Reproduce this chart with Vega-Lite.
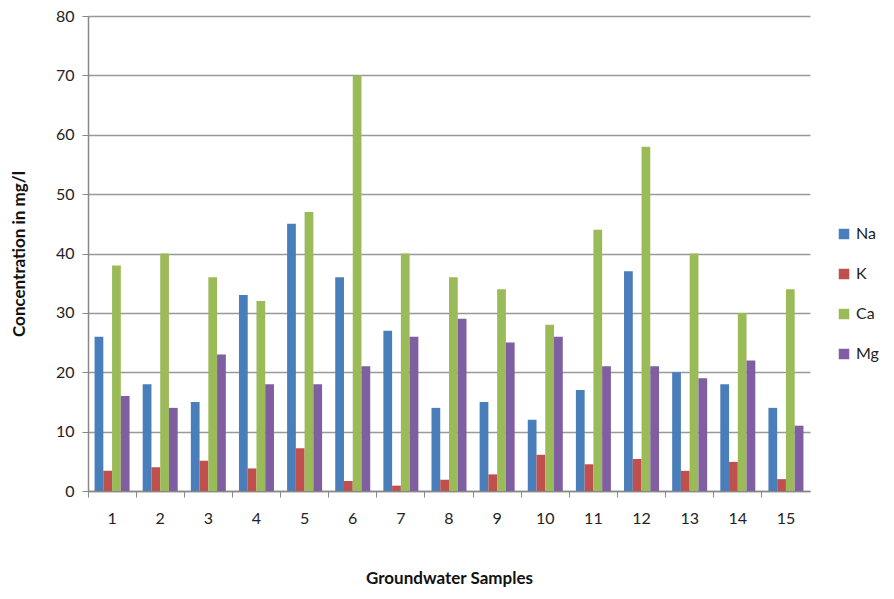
{
  "$schema": "https://vega.github.io/schema/vega-lite/v6.json",
  "width": 722,
  "height": 475,
  "autosize": {"type": "none"},
  "padding": {"left": 88, "top": 16, "right": 84, "bottom": 108},
  "background": "white",
  "config": {
    "font": "Lato",
    "view": {"stroke": null},
    "axis": {"labelFont": "Lato", "titleFont": "Lato", "labelColor": "#222", "titleColor": "#111"}
  },
  "data": {
    "values": [
      {"sample": "1", "ion": "Na", "value": 26}, {"sample": "1", "ion": "K", "value": 3.4}, {"sample": "1", "ion": "Ca", "value": 38}, {"sample": "1", "ion": "Mg", "value": 16},
      {"sample": "2", "ion": "Na", "value": 18}, {"sample": "2", "ion": "K", "value": 4.0}, {"sample": "2", "ion": "Ca", "value": 40}, {"sample": "2", "ion": "Mg", "value": 14},
      {"sample": "3", "ion": "Na", "value": 15}, {"sample": "3", "ion": "K", "value": 5.1}, {"sample": "3", "ion": "Ca", "value": 36}, {"sample": "3", "ion": "Mg", "value": 23},
      {"sample": "4", "ion": "Na", "value": 33}, {"sample": "4", "ion": "K", "value": 3.8}, {"sample": "4", "ion": "Ca", "value": 32}, {"sample": "4", "ion": "Mg", "value": 18},
      {"sample": "5", "ion": "Na", "value": 45}, {"sample": "5", "ion": "K", "value": 7.2}, {"sample": "5", "ion": "Ca", "value": 47}, {"sample": "5", "ion": "Mg", "value": 18},
      {"sample": "6", "ion": "Na", "value": 36}, {"sample": "6", "ion": "K", "value": 1.7}, {"sample": "6", "ion": "Ca", "value": 70}, {"sample": "6", "ion": "Mg", "value": 21},
      {"sample": "7", "ion": "Na", "value": 27}, {"sample": "7", "ion": "K", "value": 0.9}, {"sample": "7", "ion": "Ca", "value": 40}, {"sample": "7", "ion": "Mg", "value": 26},
      {"sample": "8", "ion": "Na", "value": 14}, {"sample": "8", "ion": "K", "value": 1.9}, {"sample": "8", "ion": "Ca", "value": 36}, {"sample": "8", "ion": "Mg", "value": 29},
      {"sample": "9", "ion": "Na", "value": 15}, {"sample": "9", "ion": "K", "value": 2.8}, {"sample": "9", "ion": "Ca", "value": 34}, {"sample": "9", "ion": "Mg", "value": 25},
      {"sample": "10", "ion": "Na", "value": 12}, {"sample": "10", "ion": "K", "value": 6.1}, {"sample": "10", "ion": "Ca", "value": 28}, {"sample": "10", "ion": "Mg", "value": 26},
      {"sample": "11", "ion": "Na", "value": 17}, {"sample": "11", "ion": "K", "value": 4.5}, {"sample": "11", "ion": "Ca", "value": 44}, {"sample": "11", "ion": "Mg", "value": 21},
      {"sample": "12", "ion": "Na", "value": 37}, {"sample": "12", "ion": "K", "value": 5.4}, {"sample": "12", "ion": "Ca", "value": 58}, {"sample": "12", "ion": "Mg", "value": 21},
      {"sample": "13", "ion": "Na", "value": 20}, {"sample": "13", "ion": "K", "value": 3.4}, {"sample": "13", "ion": "Ca", "value": 40}, {"sample": "13", "ion": "Mg", "value": 19},
      {"sample": "14", "ion": "Na", "value": 18}, {"sample": "14", "ion": "K", "value": 4.9}, {"sample": "14", "ion": "Ca", "value": 30}, {"sample": "14", "ion": "Mg", "value": 22},
      {"sample": "15", "ion": "Na", "value": 14}, {"sample": "15", "ion": "K", "value": 2.0}, {"sample": "15", "ion": "Ca", "value": 34}, {"sample": "15", "ion": "Mg", "value": 11}
    ]
  },
  "mark": {"type": "bar"},
  "encoding": {
    "x": {
      "field": "sample",
      "type": "ordinal",
      "sort": null,
      "scale": {"paddingInner": 0, "paddingOuter": 0},
      "axis": {
        "title": "Groundwater Samples",
        "titleFontSize": 17,
        "titleFontWeight": "bold",
        "titlePadding": 44,
        "labelFontSize": 16,
        "labelAngle": 0,
        "labelPadding": 13,
        "bandPosition": 0,
        "labelOffset": 0,
        "tickSize": 6,
        "tickColor": "#888",
        "domainColor": "#888",
        "domainWidth": 1.5,
        "grid": false
      }
    },
    "xOffset": {
      "field": "ion",
      "type": "nominal",
      "sort": ["Na", "K", "Ca", "Mg"],
      "scale": {"paddingInner": 0, "paddingOuter": 0.75}
    },
    "y": {
      "field": "value",
      "type": "quantitative",
      "scale": {"domain": [0, 80]},
      "axis": {
        "title": "Concentration in mg/l",
        "titleFontSize": 17,
        "titleFontWeight": "bold",
        "titlePadding": 27,
        "values": [0, 10, 20, 30, 40, 50, 60, 70, 80],
        "labelFontSize": 16,
        "labelPadding": 8,
        "tickSize": 6,
        "tickColor": "#888",
        "domainColor": "#888",
        "domainWidth": 1.5,
        "gridColor": "#999",
        "gridWidth": 1.5
      }
    },
    "color": {
      "field": "ion",
      "type": "nominal",
      "sort": ["Na", "K", "Ca", "Mg"],
      "scale": {"domain": ["Na", "K", "Ca", "Mg"], "range": ["#4A7EBB", "#C0504D", "#9BBB59", "#7F5EA2"]},
      "legend": {
        "title": null,
        "orient": "none",
        "legendX": 748,
        "legendY": 210,
        "symbolType": "square",
        "symbolSize": 110,
        "symbolStrokeWidth": 0,
        "labelFontSize": 16,
        "labelColor": "#222",
        "rowPadding": 24
      }
    }
  }
}
